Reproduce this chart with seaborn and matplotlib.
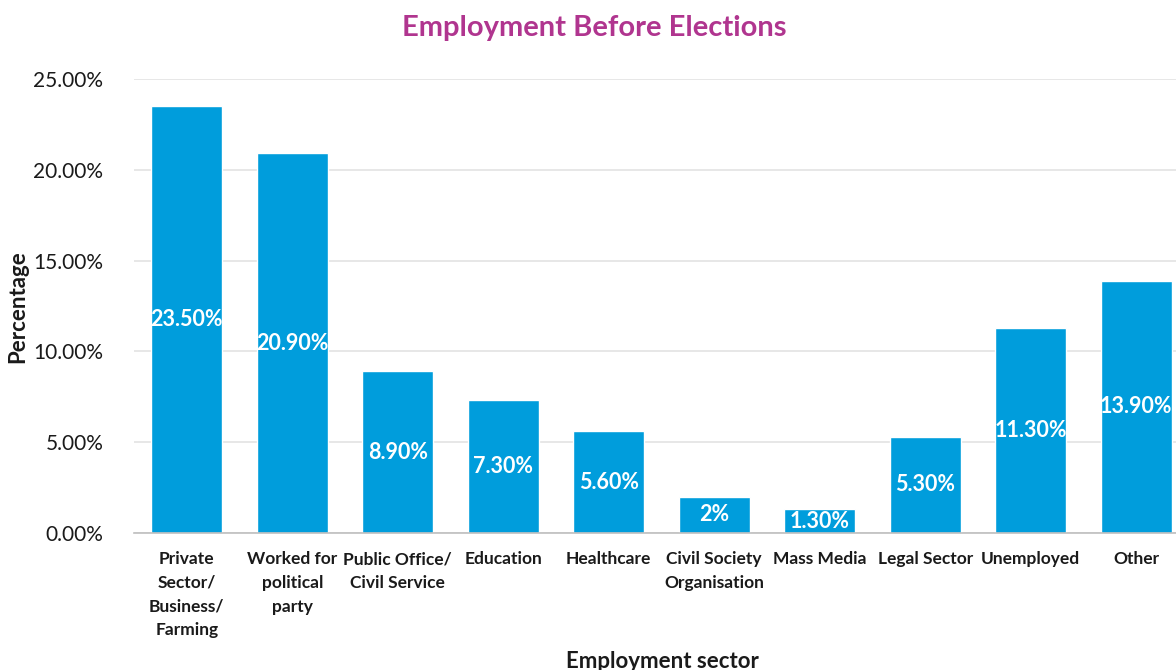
import matplotlib
matplotlib.use("Agg")
import matplotlib.pyplot as plt
import seaborn as sns
import pandas as pd

sectors = [
    "Private\nSector/\nBusiness/\nFarming",
    "Worked for\npolitical\nparty",
    "Public Office/\nCivil Service",
    "Education",
    "Healthcare",
    "Civil Society\nOrganisation",
    "Mass Media",
    "Legal Sector",
    "Unemployed",
    "Other",
]
values = [23.5, 20.9, 8.9, 7.3, 5.6, 2.0, 1.3, 5.3, 11.3, 13.9]
value_labels = ["23.50%", "20.90%", "8.90%", "7.30%", "5.60%", "2%", "1.30%", "5.30%", "11.30%", "13.90%"]
y_ticks = [0, 5, 10, 15, 20, 25]

df = pd.DataFrame({"sector": sectors, "pct": values})

sns.set_theme(style="white")
plt.rcParams["font.family"] = ["Lato", "DejaVu Sans"]

fig = plt.figure(figsize=(11.76, 6.70), dpi=100)
ax = fig.add_axes([134 / 1176, 137 / 670, 1055 / 1176, 454 / 670])

bar_color = "#009DDC"
sns.barplot(data=df, x="sector", y="pct", color=bar_color, saturation=1,
            width=0.67, ax=ax)

for patch, lab in zip(ax.patches, value_labels):
    h = patch.get_height()
    ax.text(patch.get_x() + patch.get_width() / 2, h / 2, lab,
            ha="center", va="center", color="white", fontsize=15.5,
            fontweight="bold")

ax.set_ylim(0, 25)
ax.set_yticks(y_ticks)
ax.set_yticklabels([f"{t:.2f}%" for t in y_ticks], fontsize=15, color="#1a1a1a")
ax.yaxis.grid(True, color="#E3E3E3", linewidth=1.2)
ax.set_axisbelow(True)
ax.tick_params(axis="y", length=0, pad=22)
ax.tick_params(axis="x", length=0, pad=13)
for lbl in ax.get_xticklabels():
    lbl.set_fontweight("bold")
    lbl.set_fontsize(12.5)
    lbl.set_color("#1a1a1a")
    lbl.set_linespacing(1.6)

for side in ["left", "right", "top"]:
    ax.spines[side].set_visible(False)
ax.spines["bottom"].set_color("#BFBFBF")
ax.spines["bottom"].set_linewidth(1.2)

ax.set_xlabel("")
ax.set_ylabel("")
fig.text(18 / 1176, 1 - 307 / 670, "Percentage", rotation=90, ha="center",
         va="center", fontsize=16, fontweight="bold", color="#1a1a1a")
fig.text(662 / 1176, 1 - 661 / 670, "Employment sector", ha="center",
         va="center", fontsize=16, fontweight="bold", color="#1a1a1a")
fig.text(594 / 1176, 1 - 28 / 670, "Employment Before Elections", ha="center",
         va="center", fontsize=21, fontweight="bold", color="#B0358F")

fig.savefig("out.png", dpi=100)
